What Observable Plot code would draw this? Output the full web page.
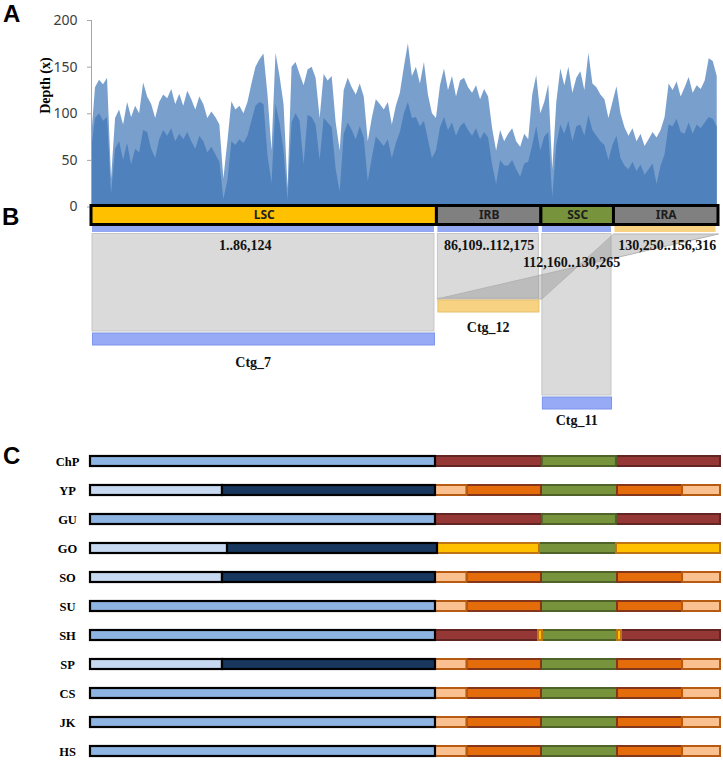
<!DOCTYPE html>
<html>
<head>
<meta charset="utf-8">
<script src="https://cdn.jsdelivr.net/npm/d3@7"></script>
<script src="https://cdn.jsdelivr.net/npm/@observablehq/plot@0.6"></script>
<style>
html, body { margin: 0; padding: 0; background: #fff; overflow: hidden; }
#root { position: relative; width: 723px; height: 765px; overflow: hidden; }
.letter { position: absolute; font-family: "Liberation Sans", Arial, sans-serif; font-weight: bold; font-size: 24px; line-height: 24px; color: #000; }
</style>
</head>
<body>
<div id="root"></div>
<script>
// ---------------- DATA ----------------
const genomeLength = 156316;
const depthStepBp = 1000; // one reading every 1 kb along the plastome

// Panel A: sequencing depth, read per 1 kb bin (peak of the spikes / solid floor)
const depthPeak = [
  72,128,136,131,138,30,95,104,88,112,
  96,108,100,133,118,110,95,112,120,116,
  126,110,121,108,124,115,104,118,110,95,
  102,96,88,30,70,113,104,108,100,112,
  132,150,158,164,120,60,165,140,110,20,
  150,155,142,130,147,150,138,95,142,135,
  140,90,60,125,138,128,120,132,118,70,
  95,115,110,104,112,88,108,122,150,175,
  140,150,132,155,120,100,95,130,148,125,
  140,118,135,138,128,122,130,115,126,118,
  84,60,82,70,78,84,70,64,78,72,
  120,141,100,112,131,40,112,148,130,150,
  122,138,145,125,165,132,128,120,115,95,
  112,129,100,85,76,84,70,78,65,72,
  80,74,82,96,132,125,134,118,128,139,
  122,130,126,135,159,156,140
];
const depthBase = [
  60,95,100,92,96,14,62,70,50,68,
  45,62,58,82,80,62,52,72,82,76,
  84,70,78,72,80,70,62,76,70,58,
  64,56,48,8,28,70,66,72,68,76,
  92,108,112,110,55,25,110,90,60,7,
  90,100,92,45,98,96,88,50,95,90,
  85,40,16,78,90,82,72,86,74,27,
  52,75,70,65,72,52,68,80,100,112,
  95,96,86,92,72,52,60,85,96,82,
  90,76,86,90,82,76,84,72,80,74,
  45,24,50,44,44,50,40,32,46,48,
  66,86,60,75,80,10,66,88,78,92,
  70,86,88,76,98,82,76,70,66,50,
  66,76,52,44,40,48,38,45,34,40,
  46,24,44,56,88,86,94,80,78,90,
  78,88,84,90,96,94,86
];
const depthTicks = [0, 50, 100, 150, 200];

// Panel B: regions of the assembled plastome and the contigs they map to
const regionNames  = ["LSC", "IRB", "SSC", "IRA"];
const regionStart  = [1, 86109, 112160, 130250];
const regionEnd    = [86124, 112175, 130265, 156316];
const regionContig = ["Ctg_7", "Ctg_12", "Ctg_11", "Ctg_12"];
const regionStrand = ["+", "+", "+", "-"];
const contigNames  = ["Ctg_7", "Ctg_12", "Ctg_11"];
const contigStart  = [1, 86109, 112160];
const contigEnd    = [86124, 112175, 130265];

// Panel C: plastome structure in each species
const species  = ["ChP", "YP", "GU", "GO", "SO", "SU", "SH", "SP", "CS", "JK", "HS"];
const lscSplit = [null, 32750, null, 34000, 32750, null, null, 32750, null, null, null];
const irType   = ["red", "orange", "red", "yellow", "orange", "orange", "junction", "orange", "orange", "orange", "orange"];
const redBounds      = [85600, 112100, 130500, 156316];
const redParts       = ["red", "ssc", "red"];
const orangeBounds   = [85600, 93400, 111900, 130760, 146900, 156316];
const orangeParts    = ["light", "orange", "ssc", "orange", "light"];
const yellowBounds   = [86100, 111400, 130500, 156316];
const yellowParts    = ["yellow", "ssc", "yellow"];
const junctionBounds = [85600, 111150, 112150, 130760, 131750, 156316];
const junctionParts  = ["red", "yellow", "ssc", "yellow", "red"];

// ---------------- STYLE / LAYOUT ----------------
const blue = "#4f81bd";
const regionFill = {LSC: "#ffc000", IRB: "#808080", SSC: "#77933c", IRA: "#808080"};
const strandFill = {"+": "#93a8f3", "-": "#f7d283"};
const contigFill = {Ctg_7: "#97aaf5", Ctg_12: "#f7d283", Ctg_11: "#97aaf5"};
const contigStroke = {Ctg_7: "#7d94ec", Ctg_12: "#e9c06a", Ctg_11: "#7d94ec"};
// vertical layout of panel B (px inside its svg)
const bLayout = {barTop: 5.5, barBottom: 24.5, pieceTop: 26, pieceBottom: 32, linkTop: 33.5, labelY: 15};
const ctgTop = {Ctg_7: 133, Ctg_12: 100, Ctg_11: 197};
const ctgH = 12;
const coordLabel = {LSC: {y: 45, dx: -19}, IRB: {y: 45, dx: 0}, SSC: {y: 62, dx: -6}, IRA: {y: 45, dx: 1}};
const ctgLabel = {Ctg_7: {y: 162, dx: -11}, Ctg_12: {y: 127, dx: -1}, Ctg_11: {y: 220, dx: -1}};
const segStyle = {
  lsc:    {fill: "#8db4e2", stroke: "#000000"},
  pale:   {fill: "#c6d9f1", stroke: "#000000"},
  navy:   {fill: "#17375e", stroke: "#000000"},
  red:    {fill: "#953735", stroke: "#632523"},
  ssc:    {fill: "#77933c", stroke: "#4f6228"},
  orange: {fill: "#e46c0a", stroke: "#84361a"},
  light:  {fill: "#fac090", stroke: "#b85b12"},
  yellow: {fill: "#ffc000", stroke: "#bf7416"}
};
const serif = "'Liberation Serif', 'Times New Roman', serif";
const sans = "'Noto Sans', 'DejaVu Sans', sans-serif";

// ---------------- BUILD ----------------
const root = document.getElementById("root");
function place(el, top) {
  el.style.position = "absolute";
  el.style.left = "0px";
  el.style.top = top + "px";
  root.appendChild(el);
}
function letter(t, top, left) {
  const d = document.createElement("div");
  d.className = "letter";
  d.textContent = t;
  d.style.top = top + "px";
  d.style.left = left + "px";
  root.appendChild(d);
}

// Panel A
const depth = depthPeak.map((p, i) => ({pos: i * depthStepBp, peak: p, base: depthBase[i]}));
const plotA = Plot.plot({
  width: 723, height: 216,
  marginLeft: 91, marginRight: 5, marginTop: 20, marginBottom: 9.5,
  style: {background: "transparent", overflow: "visible"},
  x: {domain: [0, genomeLength], axis: null},
  y: {domain: [0, 200], axis: null},
  marks: [
    Plot.areaY(depth, {x: "pos", y: "peak", fill: blue, fillOpacity: 0.76}),
    Plot.areaY(depth, {x: "pos", y: "base", fill: blue}),
    Plot.ruleX([0], {stroke: "#a6a6a6", strokeWidth: 1}),
    Plot.axisY({ticks: depthTicks, tickSize: 4, tickPadding: 10, stroke: "#a6a6a6", fill: "#3c3c3c",
      fontSize: 14, fontFamily: sans, label: null}),
    Plot.text(["Depth (x)"], {frameAnchor: "left", dx: -46, rotate: -90, fontFamily: serif,
      fontWeight: "bold", fontSize: 14, fill: "#000"})
  ]
});
place(plotA, 0);

// Panel B
const regions = regionNames.map((name, i) => ({
  name, start: regionStart[i], end: regionEnd[i], contig: regionContig[i], strand: regionStrand[i]
}));
const contigs = contigNames.map((name, i) => ({name, start: contigStart[i], end: contigEnd[i]}));
const contigByName = Object.fromEntries(contigs.map(c => [c.name, c]));
const fwd = regions.filter(r => r.strand === "+");
const rev = regions.filter(r => r.strand === "-");
const ribbons = rev.flatMap(r => {
  const c = contigByName[r.contig];
  return [
    {id: r.name, x: r.start, y: bLayout.linkTop},
    {id: r.name, x: r.end, y: bLayout.linkTop},
    {id: r.name, x: c.start, y: ctgTop[c.name] - 1.5},
    {id: r.name, x: c.end, y: ctgTop[c.name] - 1.5}
  ];
});
const fmt = d3.format(",");
const coordText = d => `${fmt(d.start)}..${fmt(d.end)}`;
const plotB = Plot.plot({
  width: 723, height: 232,
  marginLeft: 91, marginRight: 5, marginTop: 0, marginBottom: 0,
  style: {background: "transparent", overflow: "visible"},
  x: {domain: [0, genomeLength], axis: null},
  y: {domain: [0, 232], range: [0, 232], axis: null},
  marks: [
    Plot.rect(fwd, {x1: "start", x2: "end", y1: bLayout.linkTop, y2: d => ctgTop[d.contig] - 2,
      fill: "#dadada", stroke: "#c6c6c6", strokeWidth: 1, insetLeft: 1, insetRight: 2.5}),
    Plot.line(ribbons, {x: "x", y: "y", z: "id", fill: "#8c8c8c", fillOpacity: 0.38,
      stroke: "#b3b3b3", strokeWidth: 1, curve: "linear-closed"}),
    Plot.rect(regions, {x1: "start", x2: "end", y1: bLayout.pieceTop, y2: bLayout.pieceBottom,
      fill: d => strandFill[d.strand], insetLeft: 1, insetRight: 2.5}),
    Plot.rect(contigs, {x1: "start", x2: "end", y1: d => ctgTop[d.name], y2: d => ctgTop[d.name] + ctgH,
      fill: d => contigFill[d.name], stroke: d => contigStroke[d.name], strokeWidth: 1,
      insetLeft: 1.5, insetRight: 2}),
    Plot.rect(regions, {x1: "start", x2: "end", y1: bLayout.barTop, y2: bLayout.barBottom,
      fill: d => regionFill[d.name], stroke: "#000", strokeWidth: 3}),
    Plot.text(regions, {x: d => (d.start + d.end) / 2, y: bLayout.labelY, text: "name",
      fontFamily: sans, fontWeight: "bold", fontSize: 12, fill: "#1e1e1e"}),
    ...regionNames.map(n => Plot.text(regions.filter(d => d.name === n), {
      x: d => (d.start + d.end) / 2, y: coordLabel[n].y, dx: coordLabel[n].dx,
      text: coordText, fontFamily: serif, fontWeight: "bold", fontSize: 14, fill: "#111"})),
    ...contigNames.map(n => Plot.text(contigs.filter(d => d.name === n), {
      x: d => (d.start + d.end) / 2, y: ctgLabel[n].y, dx: ctgLabel[n].dx,
      text: "name", fontFamily: serif, fontWeight: "bold", fontSize: 14, fill: "#111"}))
  ]
});
place(plotB, 200);

// Panel C
const patterns = {
  red: [redBounds, redParts], orange: [orangeBounds, orangeParts],
  yellow: [yellowBounds, yellowParts], junction: [junctionBounds, junctionParts]
};
const segs = [];
species.forEach((sp, i) => {
  const [bounds, parts] = patterns[irType[i]];
  const lscEnd = bounds[0];
  if (lscSplit[i] == null) segs.push({sp, x1: 0, x2: lscEnd, part: "lsc"});
  else {
    segs.push({sp, x1: 0, x2: lscSplit[i], part: "pale"});
    segs.push({sp, x1: lscSplit[i], x2: lscEnd, part: "navy"});
  }
  parts.forEach((p, j) => segs.push({sp, x1: bounds[j], x2: bounds[j + 1], part: p}));
});
const drawOrder = ["red", "ssc", "orange", "light", "yellow", "pale", "navy", "lsc"];
const plotC = Plot.plot({
  width: 723, height: 325,
  marginLeft: 90, marginRight: 3, marginTop: 0, marginBottom: 0,
  style: {background: "transparent", overflow: "visible"},
  x: {domain: [0, genomeLength], axis: null},
  y: {domain: species, range: [3.06, 329], paddingInner: 0.664, paddingOuter: 0.3, axis: null},
  marks: [
    ...drawOrder.map(part => Plot.barX(segs.filter(s => s.part === part), {
      x1: "x1", x2: "x2", y: "sp",
      fill: segStyle[part].fill, stroke: segStyle[part].stroke,
      strokeWidth: (part === "lsc" || part === "pale" || part === "navy") ? 2.2 : 2
    })),
    Plot.text(species, {y: d => d, text: d => d, frameAnchor: "left", dx: -23, textAnchor: "middle",
      fontFamily: serif, fontWeight: "bold", fontSize: 12.5, fill: "#000"})
  ]
});
place(plotC, 440);

letter("A", 2, 3);
letter("B", 205, 2);
letter("C", 444, 3);
</script>
</body>
</html>
